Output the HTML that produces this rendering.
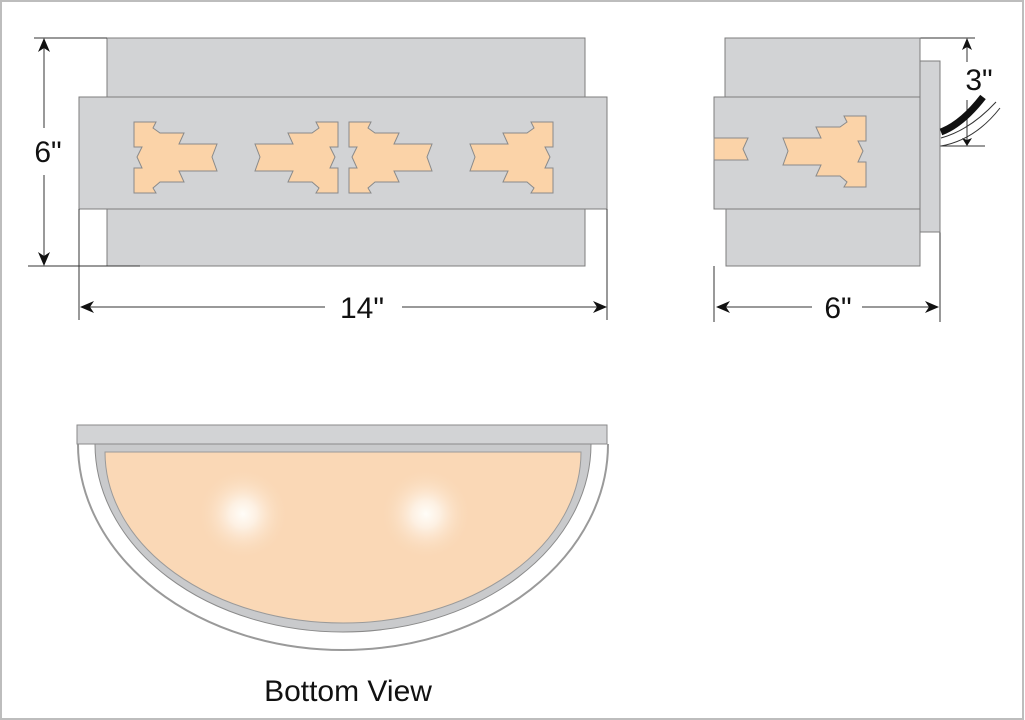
<!DOCTYPE html>
<html><head><meta charset="utf-8"><style>
html,body{margin:0;padding:0;background:#fff;}
svg{display:block;font-family:"Liberation Sans","DejaVu Sans",sans-serif;}
</style></head><body>
<svg width="1025" height="720" viewBox="0 0 1025 720" xmlns="http://www.w3.org/2000/svg">
<defs>
<radialGradient id="lg"><stop offset="0" stop-color="#fffdf8"/><stop offset="0.3" stop-color="#fdf0e2"/><stop offset="1" stop-color="#fad8b6" stop-opacity="0"/></radialGradient>
<polygon id="m" points="0,0 22,0 19,6 26,11 50,11 45,22 83,22 78,35 83,49 45,49 50,60 26,60 19,66 22,71 0,71 0,46 8,46 3,35 8,25 0,25" fill="#fbd3a8" stroke="#8a8a8a" stroke-width="1"/>
</defs>
<rect x="1" y="1" width="1022" height="718" fill="none" stroke="#bdbdbd" stroke-width="2"/>

<rect x="107" y="38" width="478" height="59" fill="#d2d3d5" stroke="#7d7d7d"/>
<rect x="107" y="209" width="478" height="57" fill="#d2d3d5" stroke="#7d7d7d"/>
<rect x="79" y="97" width="528" height="112" fill="#d2d3d5" stroke="#7d7d7d"/>
<use href="#m" transform="translate(134,122)"/>
<use href="#m" transform="translate(338,122) scale(-1,1)"/>
<use href="#m" transform="translate(349,122)"/>
<use href="#m" transform="translate(553,122) scale(-1,1)"/>

<g stroke="#333" stroke-width="1" fill="none">
<line x1="34" y1="38" x2="107" y2="38"/>
<line x1="28" y1="266" x2="140" y2="266"/>
<line x1="44" y1="40" x2="44" y2="128"/>
<line x1="44" y1="175" x2="44" y2="264"/>
<line x1="79" y1="209" x2="79" y2="320"/>
<line x1="607" y1="209" x2="607" y2="320"/>
<line x1="82" y1="307" x2="325" y2="307"/>
<line x1="402" y1="307" x2="604" y2="307"/>
<line x1="714" y1="266" x2="714" y2="322"/>
<line x1="940" y1="232" x2="940" y2="322"/>
<line x1="717" y1="307" x2="812" y2="307"/>
<line x1="862" y1="307" x2="937" y2="307"/>
<line x1="920" y1="38" x2="975" y2="38"/>
<line x1="940" y1="146" x2="985" y2="146"/>
<line x1="967" y1="42" x2="967" y2="62"/>
<line x1="967" y1="100" x2="967" y2="144"/>
</g>
<g fill="#111">
<polygon points="44,38 38,52 44,48 50,52"/>
<polygon points="44,266 38,252 44,256 50,252"/>
<polygon points="80,307 94,301 90,307 94,313"/>
<polygon points="607,307 593,301 597,307 593,313"/>
<polygon points="716,307 730,301 726,307 730,313"/>
<polygon points="939,307 925,301 929,307 925,313"/>
<polygon points="967,38 962,50 967,47 972,50"/>
<polygon points="967,146 962,138 967,140 972,138"/>
</g>
<text x="48" y="162" font-size="30" text-anchor="middle" fill="#111">6"</text>
<text x="362" y="318" font-size="30" text-anchor="middle" fill="#111">14"</text>
<text x="838" y="318" font-size="30" text-anchor="middle" fill="#111">6"</text>
<text x="979" y="90" font-size="30" text-anchor="middle" fill="#111">3"</text>

<rect x="920" y="61" width="20" height="171" fill="#d2d3d5" stroke="#7d7d7d"/>
<rect x="725" y="38" width="195" height="59" fill="#d2d3d5" stroke="#7d7d7d"/>
<rect x="726" y="209" width="194" height="57" fill="#d2d3d5" stroke="#7d7d7d"/>
<rect x="714" y="97" width="206" height="112" fill="#d2d3d5" stroke="#7d7d7d"/>
<polygon points="714,138 748,138 743,149 748,160 714,160" fill="#fbd3a8" stroke="#8a8a8a"/>
<use href="#m" transform="translate(866,116) scale(-1,1)"/>
<path d="M941,132 Q962,124 983,97" stroke="#111" stroke-width="7" fill="none"/>
<path d="M941,138 Q970,130 996,102 M941,146 Q975,140 1000,108" stroke="#333" stroke-width="1" fill="none"/>

<path d="M78,444 A265,206 0 0 0 608,444" fill="#fff" stroke="#9a9a9a" stroke-width="2"/>
<path d="M95,444 A248,188 0 0 0 591,444 Z" fill="#c9cacc" stroke="#8a8a8a"/>
<path d="M105,452 A238,171 0 0 0 581,452 Z" fill="#fad8b6" stroke="#9a9a9a"/>
<circle cx="243" cy="514" r="46" fill="url(#lg)"/>
<circle cx="426" cy="514" r="46" fill="url(#lg)"/>
<rect x="77" y="425" width="530" height="19" fill="#d2d3d5" stroke="#8a8a8a"/>
<text x="348" y="701" font-size="30" text-anchor="middle" fill="#111">Bottom View</text>
</svg>
</body></html>
